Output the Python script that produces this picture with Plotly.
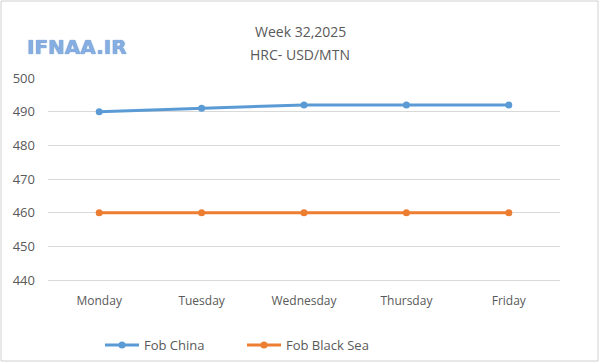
import plotly.graph_objects as go

days = ["Monday", "Tuesday", "Wednesday", "Thursday", "Friday"]
fob_china = [490, 491, 492, 492, 492]
fob_black_sea = [460, 460, 460, 460, 460]
y_ticks = [440, 450, 460, 470, 480, 490, 500]

L, R, T, B = 48, 40, 78, 83
W, H = 600, 363
pw = W - L - R
ph = H - T - B

fig = go.Figure()
fig.add_trace(go.Scatter(x=days, y=fob_china, name="Fob China", mode="lines+markers",
                         line=dict(color="#5B9BD5", width=3), marker=dict(size=7, color="#5B9BD5"),
                         legend="legend"))
fig.add_trace(go.Scatter(x=days, y=fob_black_sea, name="Fob Black Sea", mode="lines+markers",
                         line=dict(color="#ED7D31", width=3), marker=dict(size=7, color="#ED7D31"),
                         legend="legend2"))

def px_x(p):
    return (p - L) / pw

def px_y(p):
    return (H - B - p) / ph

fig.add_shape(type="rect", xref="paper", yref="paper",
              x0=px_x(1), x1=px_x(598), y0=px_y(361), y1=px_y(1),
              line=dict(color="#D0D0D0", width=1), fillcolor="rgba(0,0,0,0)", layer="below")

fig.add_annotation(xref="paper", yref="paper", x=px_x(300), y=px_y(20), text="Week 32,2025",
                   xanchor="center", showarrow=False,
                   font=dict(family="Open Sans", size=14, color="#595959"))
fig.add_annotation(xref="paper", yref="paper", x=px_x(300), y=px_y(43), text="HRC- USD/MTN",
                   xanchor="center", showarrow=False,
                   font=dict(family="Open Sans", size=14, color="#595959"))
fig.add_annotation(xref="paper", yref="paper", x=px_x(77), y=px_y(33), text="<b>IFNAA.IR</b>",
                   xanchor="center", showarrow=False,
                   font=dict(family="DejaVu Sans", size=20, color="#86AEE2",
                             shadow="0px 0px 1px #3E6DB0"))

leg_font = dict(family="Open Sans", size=13, color="#595959")
fig.update_layout(
    width=W, height=H,
    margin=dict(l=L, r=R, t=T, b=B, autoexpand=False),
    paper_bgcolor="white", plot_bgcolor="white",
    showlegend=True,
    legend=dict(orientation="h", x=px_x(100), xanchor="left", y=px_y(345), yanchor="middle",
                font=leg_font, itemwidth=34, bgcolor="rgba(0,0,0,0)"),
    legend2=dict(orientation="h", x=px_x(242), xanchor="left", y=px_y(345), yanchor="middle",
                 font=leg_font, itemwidth=34, bgcolor="rgba(0,0,0,0)"),
    xaxis=dict(type="category", range=[-0.5, 4.5], showgrid=False,
               showline=True, linecolor="#D9D9D9", linewidth=1,
               ticks="", ticklabelstandoff=10,
               tickfont=dict(family="Open Sans", size=12, color="#595959")),
    yaxis=dict(range=[440, 500], tickvals=y_ticks, showgrid=True, gridcolor="#D9D9D9",
               zeroline=False, showline=False, ticks="", ticklabelstandoff=12,
               tickfont=dict(family="Open Sans", size=13, color="#595959")),
)

fig.write_html("out.html", config={"displayModeBar": False},
               post_script="document.body.style.margin='0px';")
